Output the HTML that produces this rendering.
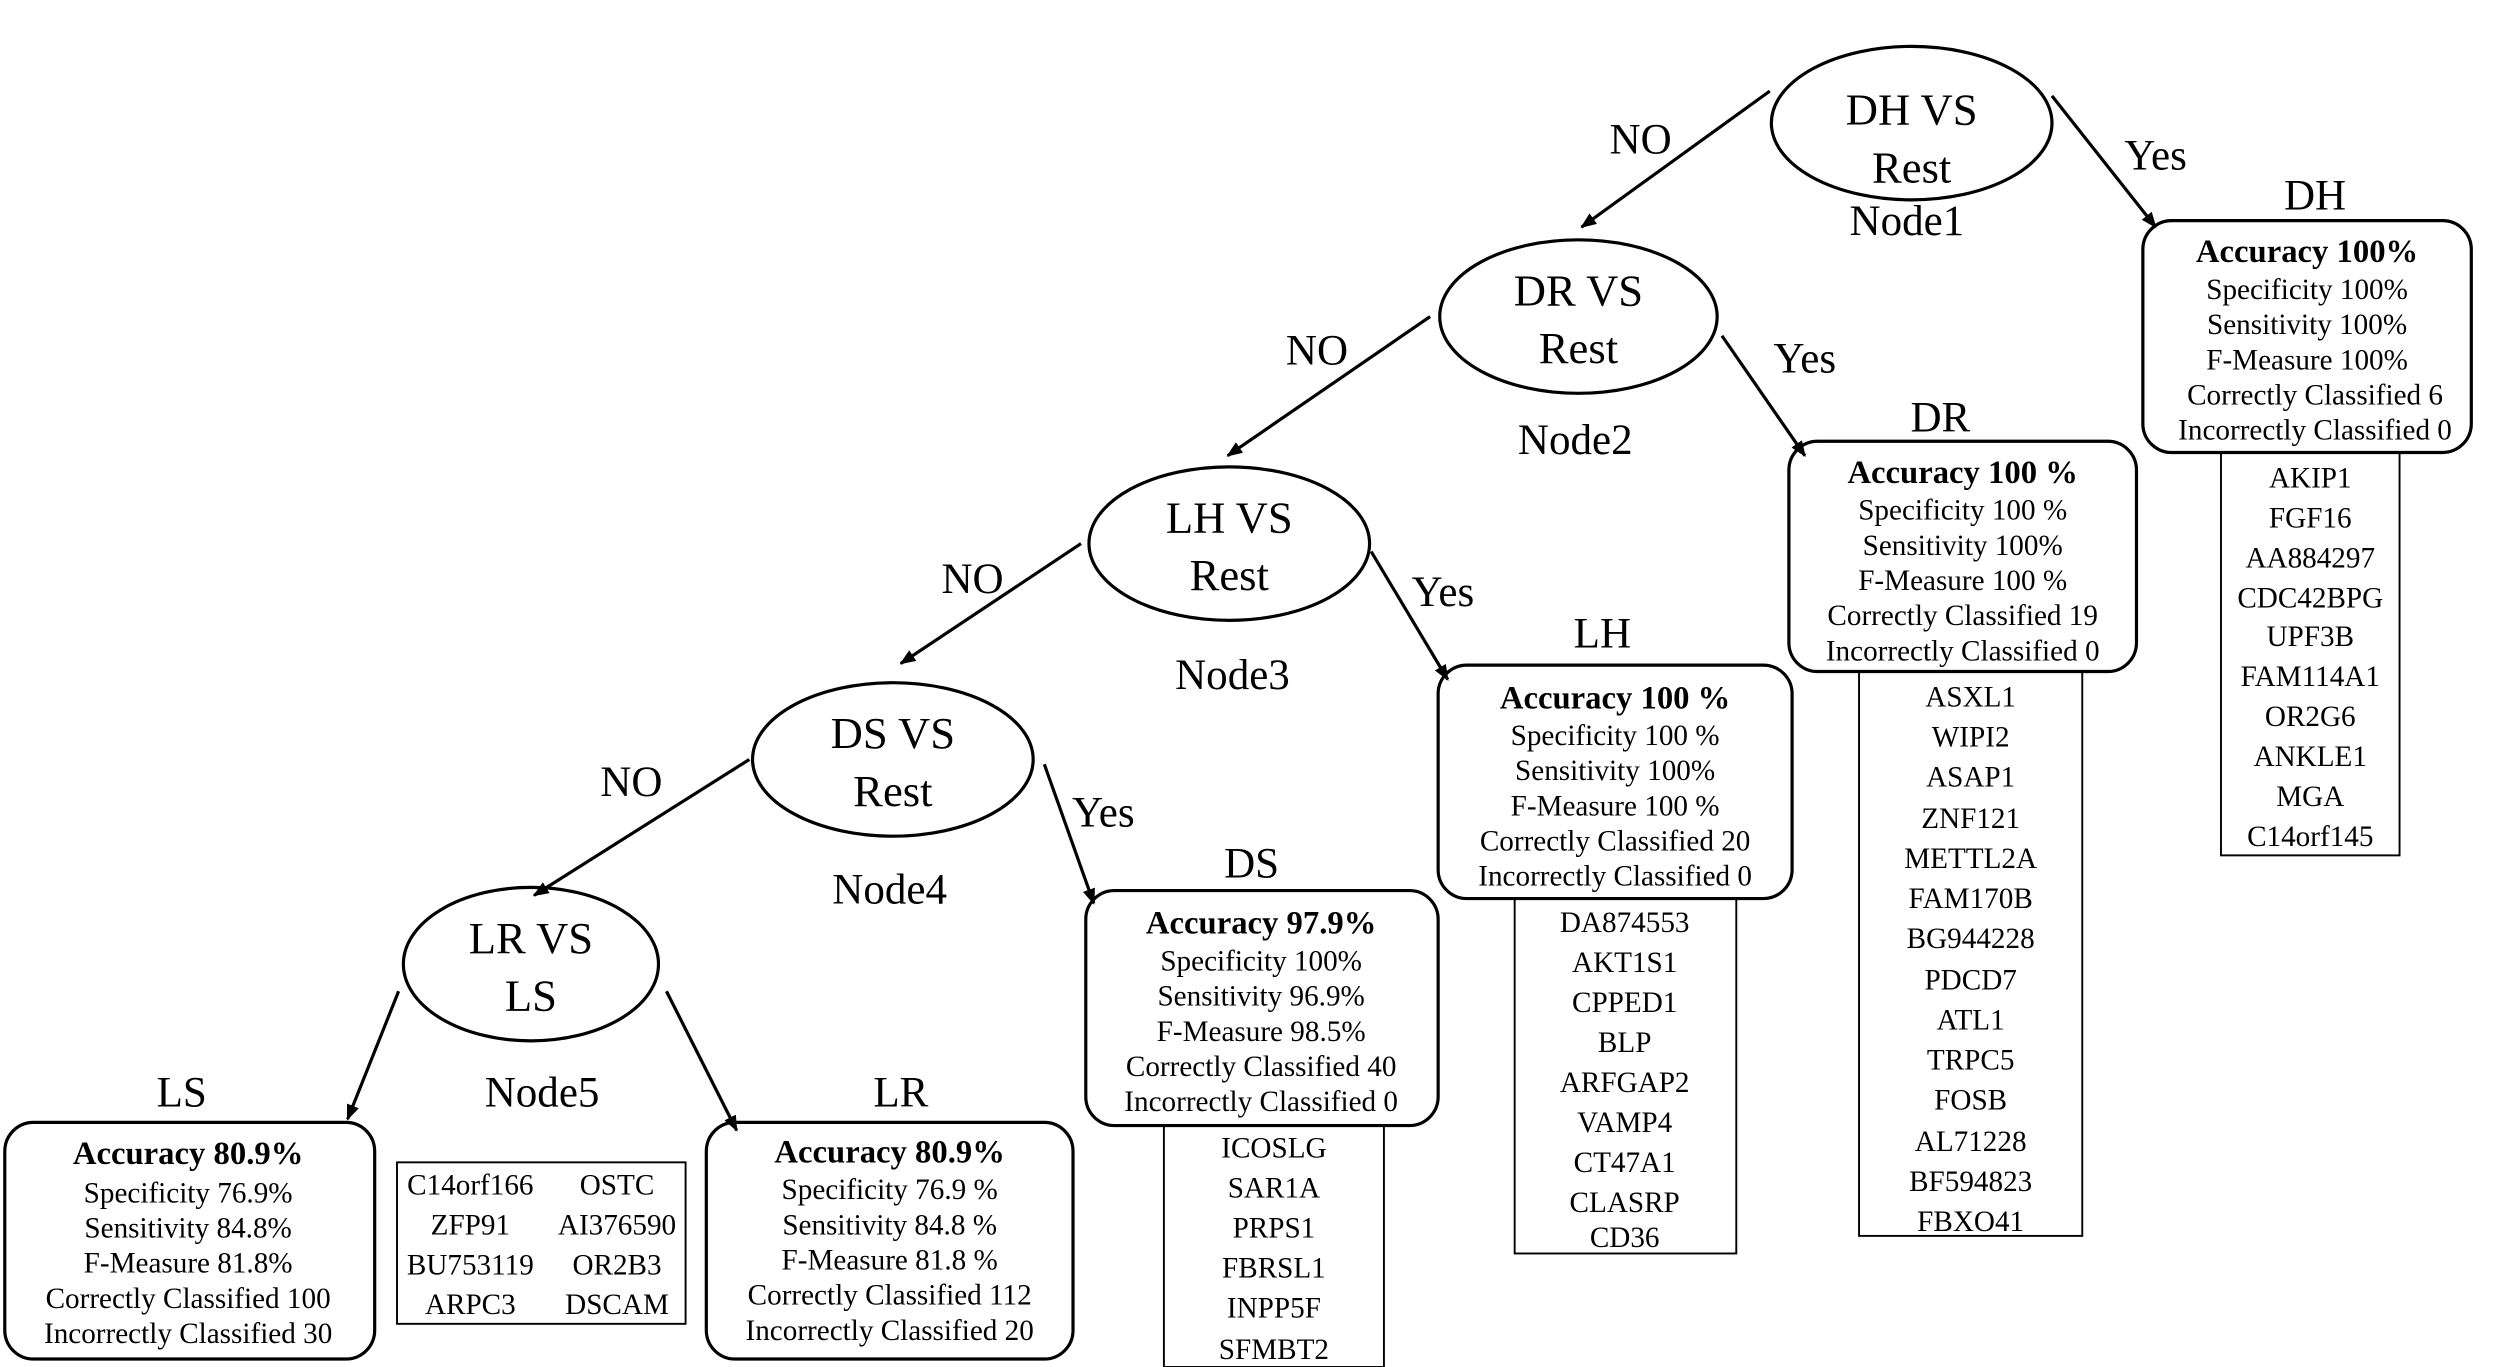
<!DOCTYPE html>
<html><head><meta charset="utf-8"><style>
html,body{margin:0;padding:0;background:#fff;}
svg{display:block;}
text{font-family:"Liberation Serif",serif;fill:#000;}
.t{font-size:18.3px;text-anchor:middle;}
.b{font-size:20.5px;font-weight:bold;text-anchor:middle;}
.h{font-size:27px;text-anchor:middle;}
.n{font-size:27px;text-anchor:middle;}
.e{font-size:28px;text-anchor:middle;}
</style></head><body>
<svg width="2500" height="1367" viewBox="0 0 1568 855" preserveAspectRatio="none" xmlns="http://www.w3.org/2000/svg">
<defs><marker id="a" markerWidth="10" markerHeight="10" refX="9" refY="5" orient="auto" markerUnits="userSpaceOnUse"><path d="M0,1 L10,5 L0,9 Z" fill="#000"/></marker></defs>
<g fill="none" stroke="#000" stroke-width="2">
<ellipse cx="1199" cy="77" rx="88" ry="48"/>
<ellipse cx="990" cy="198" rx="87" ry="48"/>
<ellipse cx="771" cy="340" rx="88" ry="48"/>
<ellipse cx="560" cy="475" rx="88" ry="48"/>
<ellipse cx="333" cy="603" rx="80" ry="48"/>
<line x1="1110" y1="57" x2="992" y2="142" marker-end="url(#a)"/>
<line x1="1287" y1="60" x2="1352" y2="142" marker-end="url(#a)"/>
<line x1="897" y1="198" x2="770" y2="285" marker-end="url(#a)"/>
<line x1="1080" y1="210" x2="1132" y2="285" marker-end="url(#a)"/>
<line x1="678" y1="340" x2="565" y2="415" marker-end="url(#a)"/>
<line x1="860" y1="345" x2="908" y2="425" marker-end="url(#a)"/>
<line x1="470" y1="475" x2="335" y2="560" marker-end="url(#a)"/>
<line x1="655" y1="478" x2="686" y2="565" marker-end="url(#a)"/>
<line x1="250" y1="620" x2="218" y2="700" marker-end="url(#a)"/>
<line x1="418" y1="620" x2="462" y2="707" marker-end="url(#a)"/>
<rect x="1344" y="138" width="206" height="145" rx="18"/>
<rect x="1122" y="276" width="218" height="144" rx="18"/>
<rect x="902" y="416" width="222" height="146" rx="18"/>
<rect x="681" y="557" width="221" height="147" rx="18"/>
<rect x="3" y="702" width="232" height="148" rx="18"/>
<rect x="443" y="702" width="230" height="148" rx="18"/>
<g stroke-width="1.2">
<rect x="1393" y="283" width="112" height="252"/>
<rect x="1166" y="420" width="140" height="353"/>
<rect x="950" y="562" width="139" height="222"/>
<rect x="730" y="704" width="138" height="151"/>
<rect x="249" y="727" width="181" height="101"/>
</g>
</g>
<text class="e" x="1199" y="78">DH VS</text><text class="e" x="1199" y="114">Rest</text>
<text class="e" x="990" y="191">DR VS</text><text class="e" x="990" y="227">Rest</text>
<text class="e" x="771" y="333">LH VS</text><text class="e" x="771" y="369">Rest</text>
<text class="e" x="560" y="468">DS VS</text><text class="e" x="560" y="504">Rest</text>
<text class="e" x="333" y="596">LR VS</text><text class="e" x="333" y="632">LS</text>
<text class="n" x="1196" y="147">Node1</text>
<text class="n" x="988" y="284">Node2</text>
<text class="n" x="773" y="431">Node3</text>
<text class="n" x="558" y="565">Node4</text>
<text class="n" x="340" y="692">Node5</text>
<text class="n" x="1029" y="96">NO</text><text class="n" x="1352" y="106">Yes</text>
<text class="n" x="826" y="228">NO</text><text class="n" x="1132" y="233">Yes</text>
<text class="n" x="610" y="371">NO</text><text class="n" x="905" y="379">Yes</text>
<text class="n" x="396" y="498">NO</text><text class="n" x="692" y="517">Yes</text>
<text class="h" x="1452" y="131">DH</text>
<text class="h" x="1217" y="270">DR</text>
<text class="h" x="1005" y="405">LH</text>
<text class="h" x="785" y="549">DS</text>
<text class="h" x="114" y="692">LS</text>
<text class="h" x="565" y="692">LR</text>
<g>
<text class="b" x="1447" y="164">Accuracy 100%</text>
<text class="t" x="1447" y="187">Specificity 100%</text>
<text class="t" x="1447" y="209">Sensitivity 100%</text>
<text class="t" x="1447" y="231">F-Measure 100%</text>
<text class="t" x="1452" y="253">Correctly Classified 6</text>
<text class="t" x="1452" y="275">Incorrectly Classified 0</text>
</g>
<g>
<text class="b" x="1231" y="302">Accuracy 100 %</text>
<text class="t" x="1231" y="325">Specificity 100 %</text>
<text class="t" x="1231" y="347">Sensitivity 100%</text>
<text class="t" x="1231" y="369">F-Measure 100 %</text>
<text class="t" x="1231" y="391">Correctly Classified 19</text>
<text class="t" x="1231" y="413">Incorrectly Classified 0</text>
</g>
<g>
<text class="b" x="1013" y="443">Accuracy 100 %</text>
<text class="t" x="1013" y="466">Specificity 100 %</text>
<text class="t" x="1013" y="488">Sensitivity 100%</text>
<text class="t" x="1013" y="510">F-Measure 100 %</text>
<text class="t" x="1013" y="532">Correctly Classified 20</text>
<text class="t" x="1013" y="554">Incorrectly Classified 0</text>
</g>
<g>
<text class="b" x="791" y="584">Accuracy 97.9%</text>
<text class="t" x="791" y="607">Specificity 100%</text>
<text class="t" x="791" y="629">Sensitivity 96.9%</text>
<text class="t" x="791" y="651">F-Measure 98.5%</text>
<text class="t" x="791" y="673">Correctly Classified 40</text>
<text class="t" x="791" y="695">Incorrectly Classified 0</text>
</g>
<g>
<text class="b" x="118" y="728">Accuracy 80.9%</text>
<text class="t" x="118" y="752">Specificity 76.9%</text>
<text class="t" x="118" y="774">Sensitivity 84.8%</text>
<text class="t" x="118" y="796">F-Measure 81.8%</text>
<text class="t" x="118" y="818">Correctly Classified 100</text>
<text class="t" x="118" y="840">Incorrectly Classified 30</text>
</g>
<g>
<text class="b" x="558" y="727">Accuracy 80.9%</text>
<text class="t" x="558" y="750">Specificity 76.9 %</text>
<text class="t" x="558" y="772">Sensitivity 84.8 %</text>
<text class="t" x="558" y="794">F-Measure 81.8 %</text>
<text class="t" x="558" y="816">Correctly Classified 112</text>
<text class="t" x="558" y="838">Incorrectly Classified 20</text>
</g>
<g>
<text class="t" x="1449" y="305">AKIP1</text><text class="t" x="1449" y="330">FGF16</text><text class="t" x="1449" y="355">AA884297</text><text class="t" x="1449" y="380">CDC42BPG</text><text class="t" x="1449" y="404">UPF3B</text><text class="t" x="1449" y="429">FAM114A1</text><text class="t" x="1449" y="454">OR2G6</text><text class="t" x="1449" y="479">ANKLE1</text><text class="t" x="1449" y="504">MGA</text><text class="t" x="1449" y="529">C14orf145</text>
</g>
<g>
<text class="t" x="1236" y="442">ASXL1</text><text class="t" x="1236" y="467">WIPI2</text><text class="t" x="1236" y="492">ASAP1</text><text class="t" x="1236" y="518">ZNF121</text><text class="t" x="1236" y="543">METTL2A</text><text class="t" x="1236" y="568">FAM170B</text><text class="t" x="1236" y="593">BG944228</text><text class="t" x="1236" y="619">PDCD7</text><text class="t" x="1236" y="644">ATL1</text><text class="t" x="1236" y="669">TRPC5</text><text class="t" x="1236" y="694">FOSB</text><text class="t" x="1236" y="720">AL71228</text><text class="t" x="1236" y="745">BF594823</text><text class="t" x="1236" y="770">FBXO41</text>
</g>
<g>
<text class="t" x="1019" y="583">DA874553</text><text class="t" x="1019" y="608">AKT1S1</text><text class="t" x="1019" y="633">CPPED1</text><text class="t" x="1019" y="658">BLP</text><text class="t" x="1019" y="683">ARFGAP2</text><text class="t" x="1019" y="708">VAMP4</text><text class="t" x="1019" y="733">CT47A1</text><text class="t" x="1019" y="758">CLASRP</text><text class="t" x="1019" y="780">CD36</text>
</g>
<g>
<text class="t" x="799" y="724">ICOSLG</text><text class="t" x="799" y="749">SAR1A</text><text class="t" x="799" y="774">PRPS1</text><text class="t" x="799" y="799">FBRSL1</text><text class="t" x="799" y="824">INPP5F</text><text class="t" x="799" y="850">SFMBT2</text>
</g>
<g>
<text class="t" x="295" y="747">C14orf166</text><text class="t" x="387" y="747">OSTC</text>
<text class="t" x="295" y="772">ZFP91</text><text class="t" x="387" y="772">AI376590</text>
<text class="t" x="295" y="797">BU753119</text><text class="t" x="387" y="797">OR2B3</text>
<text class="t" x="295" y="822">ARPC3</text><text class="t" x="387" y="822">DSCAM</text>
</g>
</svg>
</body></html>
